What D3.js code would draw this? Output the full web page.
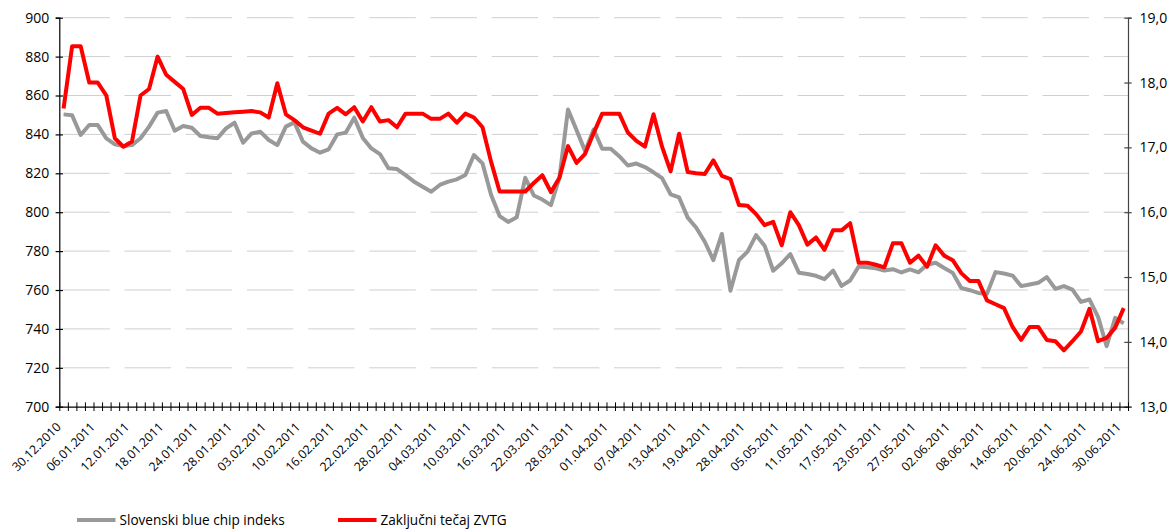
<!DOCTYPE html>
<html>
<head>
<meta charset="utf-8">
<script src="https://cdn.jsdelivr.net/npm/d3@7"></script>
<style>
  html, body { margin: 0; padding: 0; background: #fff; }
  svg { display: block; font-family: "Open Sans", "Noto Sans", sans-serif; }
</style>
</head>
<body>
<svg id="chart" width="1174" height="529"></svg>
<script>
// ---- data ----
const dates = [
  "30.12.2010","03.01.2011","04.01.2011","05.01.2011","06.01.2011","07.01.2011","10.01.2011","11.01.2011",
  "12.01.2011","13.01.2011","14.01.2011","17.01.2011","18.01.2011","19.01.2011","20.01.2011","21.01.2011",
  "24.01.2011","25.01.2011","26.01.2011","27.01.2011","28.01.2011","31.01.2011","01.02.2011","02.02.2011",
  "03.02.2011","04.02.2011","07.02.2011","09.02.2011","10.02.2011","11.02.2011","14.02.2011","15.02.2011",
  "16.02.2011","17.02.2011","18.02.2011","21.02.2011","22.02.2011","23.02.2011","24.02.2011","25.02.2011",
  "28.02.2011","01.03.2011","02.03.2011","03.03.2011","04.03.2011","07.03.2011","08.03.2011","09.03.2011",
  "10.03.2011","11.03.2011","14.03.2011","15.03.2011","16.03.2011","17.03.2011","18.03.2011","21.03.2011",
  "22.03.2011","23.03.2011","24.03.2011","25.03.2011","28.03.2011","29.03.2011","30.03.2011","31.03.2011",
  "01.04.2011","04.04.2011","05.04.2011","06.04.2011","07.04.2011","08.04.2011","11.04.2011","12.04.2011",
  "13.04.2011","14.04.2011","15.04.2011","18.04.2011","19.04.2011","20.04.2011","21.04.2011","26.04.2011",
  "28.04.2011","29.04.2011","03.05.2011","04.05.2011","05.05.2011","06.05.2011","09.05.2011","10.05.2011",
  "11.05.2011","12.05.2011","13.05.2011","16.05.2011","17.05.2011","18.05.2011","19.05.2011","20.05.2011",
  "23.05.2011","24.05.2011","25.05.2011","26.05.2011","27.05.2011","30.05.2011","31.05.2011","01.06.2011",
  "02.06.2011","03.06.2011","06.06.2011","07.06.2011","08.06.2011","09.06.2011","10.06.2011","13.06.2011",
  "14.06.2011","15.06.2011","16.06.2011","17.06.2011","20.06.2011","21.06.2011","22.06.2011","23.06.2011",
  "24.06.2011","27.06.2011","28.06.2011","29.06.2011","30.06.2011"
];

// Slovenski blue chip indeks (left axis)
const sbitop = [
  850.3,849.8,839.7,844.8,844.8,838.0,834.9,834.0,834.5,838.0,844.0,851.2,852.0,841.9,844.3,843.4,
  839.2,838.5,838.0,843.1,846.0,835.7,840.5,841.4,837.1,834.5,844.0,846.2,836.3,832.8,830.6,832.3,
  840.0,840.9,848.6,838.2,832.8,829.9,822.6,822.2,819.1,815.7,813.1,810.5,814.0,815.7,816.9,819.1,
  829.4,825.1,809.0,798.0,795.0,797.4,817.7,808.6,806.5,803.6,817.7,852.8,842.2,831.4,842.5,832.6,
  832.6,828.8,824.0,825.0,823.2,820.5,817.5,809.2,807.6,797.2,792.0,784.8,775.4,788.8,759.6,775.4,
  779.7,788.2,782.8,769.9,773.7,778.5,768.9,768.2,767.3,765.6,770.0,762.1,764.9,772.1,771.7,771.2,
  770.0,770.7,769.0,770.6,769.1,773.0,774.0,771.3,768.8,761.0,759.9,758.5,758.0,769.2,768.5,767.4,
  762.0,762.8,763.7,766.6,760.6,762.0,760.2,753.9,755.1,746.2,731.1,745.7,742.8
];

// Zaključni tečaj ZVTG (right axis)
const zvtg = [
  17.60,18.56,18.56,18.00,18.00,17.80,17.14,17.01,17.09,17.80,17.90,18.40,18.12,18.01,17.90,17.50,
  17.61,17.61,17.52,17.53,17.54,17.55,17.56,17.54,17.46,17.99,17.51,17.42,17.31,17.26,17.21,17.52,
  17.61,17.51,17.62,17.40,17.62,17.40,17.42,17.31,17.52,17.52,17.52,17.44,17.44,17.52,17.38,17.52,
  17.46,17.31,16.78,16.32,16.32,16.32,16.32,16.45,16.57,16.31,16.53,17.02,16.76,16.90,17.22,17.52,
  17.52,17.52,17.23,17.10,17.01,17.51,17.01,16.63,17.21,16.62,16.60,16.59,16.80,16.56,16.51,16.11,
  16.10,15.97,15.80,15.85,15.49,16.00,15.80,15.50,15.61,15.42,15.72,15.72,15.83,15.22,15.22,15.19,
  15.15,15.52,15.52,15.22,15.33,15.16,15.49,15.33,15.26,15.06,14.94,14.94,14.64,14.58,14.52,14.23,
  14.03,14.23,14.23,14.03,14.01,13.87,14.01,14.16,14.51,14.01,14.06,14.22,14.52
];

const leftTicks = [700,720,740,760,780,800,820,840,860,880,900];
const rightTicks = [13,14,15,16,17,18,19];
const labelEvery = 4;
const seriesNames = ["Slovenski blue chip indeks", "Zaključni tečaj ZVTG"];
const seriesColors = ["#999999", "#ff0000"];

// ---- layout ----
const L = 59.3, R = 1128, T = 17.7, B = 406.7;
const svg = d3.select("#chart");

const x = d3.scaleBand().domain(dates).range([L, R]).padding(0);
const xb = d3.scaleLinear().domain([0, dates.length]).range([L, R]);
const yL = d3.scaleLinear().domain([700, 900]).range([B, T]);
const yR = d3.scaleLinear().domain([13, 19]).range([B, T]);
const cx = d => x(d) + x.bandwidth() / 2;

// gridlines
svg.append("g").selectAll("line")
  .data(leftTicks.filter(v => v !== 700))
  .join("line")
  .attr("x1", L + 4).attr("x2", R)
  .attr("y1", d => yL(d)).attr("y2", d => yL(d))
  .attr("stroke", "#cfcfcf").attr("stroke-width", 1)
  .attr("stroke-dasharray", "46.5,14.7");

// left axis
const gL = svg.append("g").attr("transform", `translate(${L},0)`)
  .call(d3.axisLeft(yL).tickValues(leftTicks).tickFormat(d3.format("d")).tickSize(3.5).tickPadding(6.5));
gL.select(".domain").attr("stroke", "#000").attr("stroke-width", 1.2);
gL.selectAll(".tick line").attr("x1", -3.7).attr("x2", 3.7).attr("stroke", "#000").attr("stroke-width", 1.2);
gL.selectAll(".tick text").attr("font-size", 14).attr("fill", "#000").attr("font-family", "Open Sans");

// right axis
const gR = svg.append("g").attr("transform", `translate(${R},0)`)
  .call(d3.axisRight(yR).tickValues(rightTicks).tickFormat(d => d3.format(".1f")(d).replace(".", ",")).tickSize(3.5).tickPadding(8));
gR.select(".domain").attr("stroke", "#444").attr("stroke-width", 1.2);
gR.selectAll(".tick line").attr("x1", -3.7).attr("x2", 3.7).attr("stroke", "#444").attr("stroke-width", 1.2);
gR.selectAll(".tick text").attr("font-size", 14).attr("fill", "#000").attr("font-family", "Open Sans");

// bottom axis (ticks at category boundaries)
const gB = svg.append("g").attr("transform", `translate(0,${B})`)
  .call(d3.axisBottom(xb).tickValues(d3.range(dates.length + 1)).tickFormat("").tickSize(4.3).tickSizeOuter(0));
gB.select(".domain").attr("stroke", "#000").attr("stroke-width", 1.2);
gB.selectAll(".tick line").attr("y1", -4.3).attr("y2", 4.3).attr("stroke", "#000").attr("stroke-width", 1);

// x labels
svg.append("g").selectAll("text")
  .data(dates.filter((d, i) => i % labelEvery === 0))
  .join("text")
  .attr("transform", d => `translate(${cx(d) - 5},${B + 18}) rotate(-45)`)
  .attr("text-anchor", "end")
  .attr("dy", "0.35em")
  .attr("font-size", 12.3)
  .attr("fill", "#000")
  .text(d => d);

// lines
const lineL = d3.line().x((d, i) => cx(dates[i])).y(d => yL(d));
const lineR = d3.line().x((d, i) => cx(dates[i])).y(d => yR(d));

svg.append("path").datum(sbitop)
  .attr("d", lineL).attr("fill", "none")
  .attr("stroke", seriesColors[0]).attr("stroke-width", 4)
  .attr("stroke-linejoin", "round");

svg.append("path").datum(zvtg)
  .attr("d", lineR).attr("fill", "none")
  .attr("stroke", seriesColors[1]).attr("stroke-width", 4)
  .attr("stroke-linejoin", "round");

// legend
const legendX = [77, 338];
const lg = svg.append("g");
seriesNames.forEach((name, i) => {
  lg.append("line")
    .attr("x1", legendX[i]).attr("x2", legendX[i] + 38.5)
    .attr("y1", 520).attr("y2", 520)
    .attr("stroke", seriesColors[i]).attr("stroke-width", 4);
  lg.append("text")
    .attr("x", legendX[i] + 42.5).attr("y", 525)
    .attr("font-size", 13.6).attr("fill", "#000")
    .text(name);
});
</script>
</body>
</html>
